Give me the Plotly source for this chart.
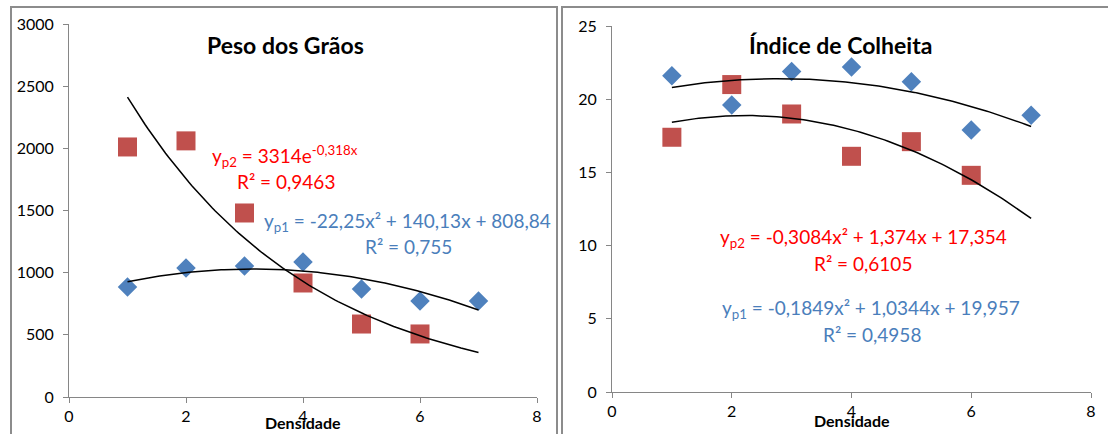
import numpy as np
import plotly.graph_objects as go

W, H = 1108, 434

# ---- data ----
dens = [1, 2, 3, 4, 5, 6, 7]
peso_p1 = [885, 1038, 1054, 1086, 869, 772, 772]
peso_p2 = [2011, 2060, 1480, 917, 587, 507]
ic_p1 = [21.6, 19.6, 21.9, 22.2, 21.2, 17.9, 18.9]
ic_p2 = [17.4, 21.0, 18.99, 16.1, 17.1, 14.8]

# trendline coefficients (as displayed)
peso_p1_poly = [-22.25, 140.13, 808.84]
peso_p2_exp = [3314, -0.318]
ic_p1_poly = [-0.1849, 1.0344, 19.957]
ic_p2_poly = [-0.3084, 1.374, 17.354]

titles = ["Peso dos Grãos", "Índice de Colheita"]
xtitle = "Densidade"
x_ticks = [0, 2, 4, 6, 8]

BLUE = "#4F81BD"
RED = "#C0504D"
TXT_BLUE = "#4A7EBB"
TXT_RED = "#FF0000"
AX = "#868686"
FONT = "Lato"

xs = np.linspace(1, 7, 121)

def poly(c, x):
    return c[0] * x ** 2 + c[1] * x + c[2]

fig = go.Figure()

def px_x(p):
    return p / W

def px_y(p):
    return 1 - p / H

# left panel
fig.add_trace(go.Scatter(x=dens, y=peso_p1, mode="markers",
                         marker=dict(symbol="diamond", size=15, color=BLUE),
                         xaxis="x", yaxis="y", showlegend=False))
fig.add_trace(go.Scatter(x=dens[:len(peso_p2)], y=peso_p2, mode="markers",
                         marker=dict(symbol="square", size=19, color=RED),
                         xaxis="x", yaxis="y", showlegend=False))
fig.add_trace(go.Scatter(x=xs, y=poly(peso_p1_poly, xs), mode="lines",
                         line=dict(color="black", width=1.5),
                         xaxis="x", yaxis="y", showlegend=False))
fig.add_trace(go.Scatter(x=xs, y=peso_p2_exp[0] * np.exp(peso_p2_exp[1] * xs), mode="lines",
                         line=dict(color="black", width=1.5),
                         xaxis="x", yaxis="y", showlegend=False))

# right panel
fig.add_trace(go.Scatter(x=dens, y=ic_p1, mode="markers",
                         marker=dict(symbol="diamond", size=15, color=BLUE),
                         xaxis="x2", yaxis="y2", showlegend=False))
fig.add_trace(go.Scatter(x=dens[:len(ic_p2)], y=ic_p2, mode="markers",
                         marker=dict(symbol="square", size=19, color=RED),
                         xaxis="x2", yaxis="y2", showlegend=False))
fig.add_trace(go.Scatter(x=xs, y=poly(ic_p1_poly, xs), mode="lines",
                         line=dict(color="black", width=1.5),
                         xaxis="x2", yaxis="y2", showlegend=False))
fig.add_trace(go.Scatter(x=xs, y=poly(ic_p2_poly, xs), mode="lines",
                         line=dict(color="black", width=1.5),
                         xaxis="x2", yaxis="y2", showlegend=False))

axis_common = dict(showgrid=False, zeroline=False, showline=True, linecolor=AX,
                   linewidth=1, ticks="outside", tickcolor=AX, ticklen=5,
                   automargin=False,
                   tickfont=dict(family=FONT, size=16, color="black"))

fig.update_layout(
    template="none",
    width=W, height=H, margin=dict(l=0, r=0, t=0, b=0, pad=0, autoexpand=False),
    paper_bgcolor="white", plot_bgcolor="white",
    font=dict(family=FONT),
    xaxis=dict(domain=[px_x(69), px_x(537)], range=[0, 8], tickvals=x_ticks,
               anchor="y", **axis_common),
    yaxis=dict(domain=[px_y(397), px_y(24)], range=[0, 3000], dtick=500,
               anchor="x", ticklabelstandoff=6, **axis_common),
    xaxis2=dict(domain=[px_x(612), px_x(1091)], range=[0, 8], tickvals=x_ticks,
                anchor="y2", **axis_common),
    yaxis2=dict(domain=[px_y(392), px_y(26)], range=[0, 25], dtick=5,
                anchor="x2", ticklabelstandoff=6, **axis_common),
)

# frames
fig.add_shape(type="rect", xref="paper", yref="paper",
              x0=px_x(11), x1=px_x(557), y0=-0.1, y1=px_y(7),
              line=dict(color="#8C8C8C", width=2), layer="below")
fig.add_shape(type="rect", xref="paper", yref="paper",
              x0=px_x(562), x1=1.05, y0=-0.1, y1=px_y(7),
              line=dict(color="#8C8C8C", width=2), layer="below")

def ann(text, x, y, color="black", size=19, bold=False):
    fig.add_annotation(text=f"<b>{text}</b>" if bold else text,
                       xref="paper", yref="paper", x=px_x(x), y=px_y(y),
                       xanchor="center", yanchor="middle", showarrow=False,
                       font=dict(family=FONT, size=size, color=color))

ann(titles[0], 285, 45, size=23, bold=True)
ann(titles[1], 840, 45, size=23, bold=True)
ann(xtitle, 303, 422, size=16, bold=True)
ann(xtitle, 852, 420, size=16, bold=True)

ann("y<sub>p2</sub> = 3314e<sup>-0,318x</sup>", 285, 156, TXT_RED)
ann("R² = 0,9463", 286, 181, TXT_RED)
ann("y<sub>p1</sub> = -22,25x² + 140,13x + 808,84", 407, 222, TXT_BLUE)
ann("R² = 0,755", 408, 246, TXT_BLUE)
ann("y<sub>p2</sub> = -0,3084x² + 1,374x + 17,354", 863, 238, TXT_RED)
ann("R² = 0,6105", 863, 263, TXT_RED)
ann("y<sub>p1</sub> = -0,1849x² + 1,0344x + 19,957", 871, 309, TXT_BLUE)
ann("R² = 0,4958", 872, 334, TXT_BLUE)

fig.write_html("out.html", config={"displayModeBar": False},
               post_script="document.body.style.margin='0px';document.body.style.overflow='hidden';")
